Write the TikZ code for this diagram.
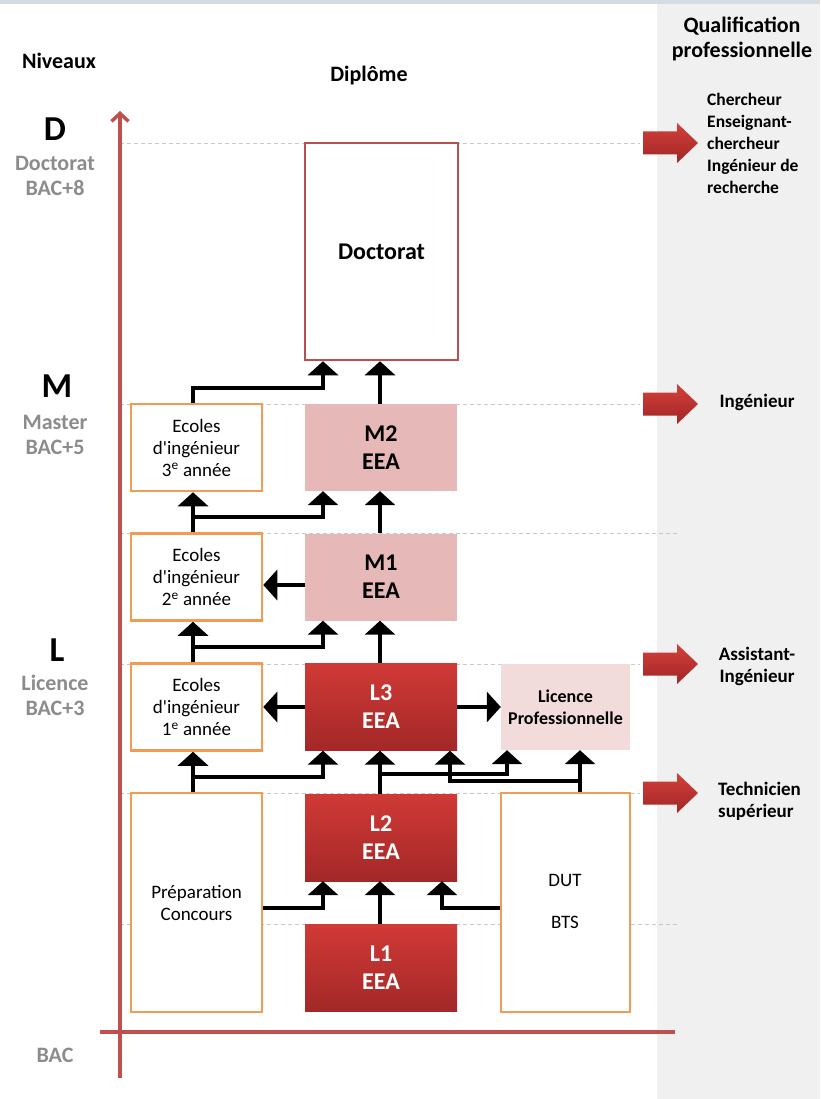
\documentclass[tikz,border=0pt]{standalone}
\usepackage{fontspec}
\setmainfont{Carlito}[Ligatures=TeXOff]
\usetikzlibrary{arrows.meta,calc}
\definecolor{axisred}{RGB}{192,80,77}
\definecolor{docred}{RGB}{185,80,80}
\definecolor{orng}{RGB}{242,155,85}
\definecolor{mpink}{RGB}{230,184,183}
\definecolor{lppink}{RGB}{242,220,219}
\definecolor{lredtop}{RGB}{208,58,54}
\definecolor{lredbot}{RGB}{163,40,40}
\definecolor{arrtop}{RGB}{212,64,58}
\definecolor{arrbot}{RGB}{160,38,38}
\definecolor{panelgray}{RGB}{240,240,240}
\definecolor{topband}{RGB}{214,220,228}
\definecolor{levelgray}{RGB}{140,140,140}
\definecolor{guidegray}{RGB}{200,200,200}
\newcommand{\fsz}[2]{\fontsize{#1}{#2}\selectfont}
\begin{document}
\begin{tikzpicture}[x=1pt,y=-1pt,
  lvl/.style={font=\bfseries\fsz{22}{25}, text=levelgray, align=center, inner sep=0pt},
  bigl/.style={font=\bfseries\fsz{35}{36}, inner sep=0pt},
  hdr/.style={font=\bfseries\fsz{22}{25}, align=center, inner sep=0pt},
  rtext/.style={font=\bfseries\fsz{19}{22}, inner sep=0pt},
  ecole/.style={draw=orng, line width=2.5pt, fill=white, minimum width=131pt, minimum height=87pt, inner sep=0pt, align=center, font=\fsz{19}{22}},
  lbox/.style={top color=lredtop, bottom color=lredbot, draw=none, minimum width=152pt, minimum height=87pt, inner sep=0pt, align=center, font=\bfseries\fsz{24}{28}, text=white},
  mbox/.style={fill=mpink, minimum width=152pt, minimum height=87pt, inner sep=0pt, align=center, font=\bfseries\fsz{24}{28}},
  guide/.style={draw=guidegray, line width=0.9pt, dash pattern=on 4pt off 3pt},
  axisline/.style={draw=axisred, line width=3.5pt},
  blk/.style={line width=4pt, -{Triangle[width=30pt,length=14pt]}},
  redarr/.pic={\shade[top color=arrtop, bottom color=arrbot] (0,-11.5) -- (34,-11.5) -- (34,-20) -- (55,0) -- (34,20) -- (34,11.5) -- (0,11.5) -- cycle;}
]
\useasboundingbox (0,0) rectangle (820,1099);
\fill[white] (0,0) rectangle (820,1099);
\fill[panelgray] (657,0) rectangle (820,1099);
\fill[topband] (0,0) rectangle (820,4);

% guides
\draw[guide] (120,143) -- (640,143);
\draw[guide] (120,404) -- (640,404);
\draw[guide] (120,533) -- (680,533);
\draw[guide] (120,664) -- (640,664);
\draw[guide] (120,793) -- (640,793);
\draw[guide] (120,924) -- (680,924);

% axes
\draw[axisline] (100,1032) -- (675,1032);
\draw[axisline, -{Straight Barb[width=17pt,length=8pt]}] (120,1078) -- (120,111);

% headers
\node[hdr] (niv) at (59,61) {Niveaux};
\node[hdr] (dip) at (369,76) {Diplôme};
\node[hdr] (qual) at (742,39) {Qualification\\professionnelle};

% levels
\node[bigl] (dD) at (55,129) {D};
\node[lvl] (dlab) at (55,176) {Doctorat\\BAC+8};
\node[bigl] (dM) at (57,386) {M};
\node[lvl] (mlab) at (55,435) {Master\\BAC+5};
\node[bigl] (dL) at (57,650) {L};
\node[lvl] (llab) at (55,695) {Licence\\BAC+3};
\node[lvl] (bac) at (55,1055) {BAC};

% boxes
\node[draw=docred, line width=2.5pt, fill=white, minimum width=153pt, minimum height=217pt, font=\bfseries\fsz{24}{28}] (doc) at (381.5,251.5) {Doctorat};
\node[mbox] (m2) at (381,447.5) {M2\\EEA};
\node[mbox] (m1) at (381,577) {M1\\EEA};
\node[lbox] (l3) at (381,707) {L3\\EEA};
\node[lbox] (l2) at (381,837.5) {L2\\EEA};
\node[lbox] (l1) at (381,968) {L1\\EEA};
\node[ecole] (e3) at (196.5,447.5) {Ecoles\\d'ingénieur\\3\textsuperscript{e} année};
\node[ecole] (e2) at (196.5,577) {Ecoles\\d'ingénieur\\2\textsuperscript{e} année};
\node[ecole] (e1) at (196.5,707) {Ecoles\\d'ingénieur\\1\textsuperscript{e} année};
\node[ecole, minimum height=219pt] (prep) at (196.5,902.5) {Préparation\\Concours};
\node[fill=lppink, minimum width=129pt, minimum height=86pt, inner sep=0pt, align=center, font=\bfseries\fsz{18}{22}] (lp) at (565.5,707) {Licence\\Professionnelle};
\node[ecole, minimum width=129pt, minimum height=219pt] (dut) at (565.5,902.5) {};
\node[font=\fsz{19}{22}, inner sep=0pt] (dutt) at (565,880) {DUT};
\node[font=\fsz{19}{22}, inner sep=0pt] (btst) at (565,922) {BTS};

% column coordinates
\coordinate (xa) at (193,0);
\coordinate (xb) at (323,0);
\coordinate (xc) at (380,0);
\coordinate (xd) at (450,0);
\coordinate (xdd) at (442,0);
\coordinate (xe) at (507,0);
\coordinate (xf) at (580,0);
\coordinate (ym) at (0,585);
\coordinate (yl) at (0,908);

% connectors
\draw[blk] (e3.north -| xa) -- ++(0,-15) -| (doc.south -| xb);
\draw[blk] (m2.north -| xc) -- (doc.south -| xc);
\draw[blk] (m1.north -| xc) -- (m2.south -| xc);
\draw[blk] (e2.north -| xa) -- (e3.south -| xa);
\draw[blk] (e2.north -| xa) -- ++(0,-15) -| (m2.south -| xb);
\draw[blk] (m1.west |- ym) -- (e2.east |- ym);
\draw[blk] (e1.north -| xa) -- (e2.south -| xa);
\draw[blk] (e1.north -| xa) -- ++(0,-15) -| (m1.south -| xb);
\draw[blk] (l3.north -| xc) -- (m1.south -| xc);
\draw[blk] (l3.west) -- (e1.east);
\draw[blk] (l3.east) -- (lp.west);
\draw[blk] (prep.north -| xa) -- (e1.south -| xa);
\draw[blk] (prep.north -| xa) -- ++(0,-15) -| (l3.south -| xb);
\draw[blk] (l2.north -| xc) -- (l3.south -| xc);
\draw[blk] (l2.north -| xc) -- ++(0,-20) -| (lp.south -| xe);
\draw[blk] (dut.north -| xf) -- (lp.south -| xf);
\draw[blk] (dut.north -| xf) -- ++(0,-11) -| (l3.south -| xd);
\draw[blk] (l1.north -| xc) -- (l2.south -| xc);
\draw[blk] (prep.east |- yl) -| (l2.south -| xb);
\draw[blk] (dut.west |- yl) -| (l2.south -| xdd);

% red arrows
\pic at (643,143) {redarr};
\pic at (643,404) {redarr};
\pic at (643,664) {redarr};
\pic at (643,793) {redarr};

% qualifications
\node[rtext, font=\bfseries\fsz{17.5}{22}, anchor=west, align=left] (q1) at (707,143) {Chercheur\\Enseignant-\\chercheur\\Ingénieur de\\recherche};
\node[rtext] (q2) at (757,402) {Ingénieur};
\node[rtext, align=center] (q3) at (757,666) {Assistant-\\Ingénieur};
\node[rtext, anchor=west, align=left] (q4) at (718,801) {Technicien\\supérieur};
\end{tikzpicture}
\end{document}
